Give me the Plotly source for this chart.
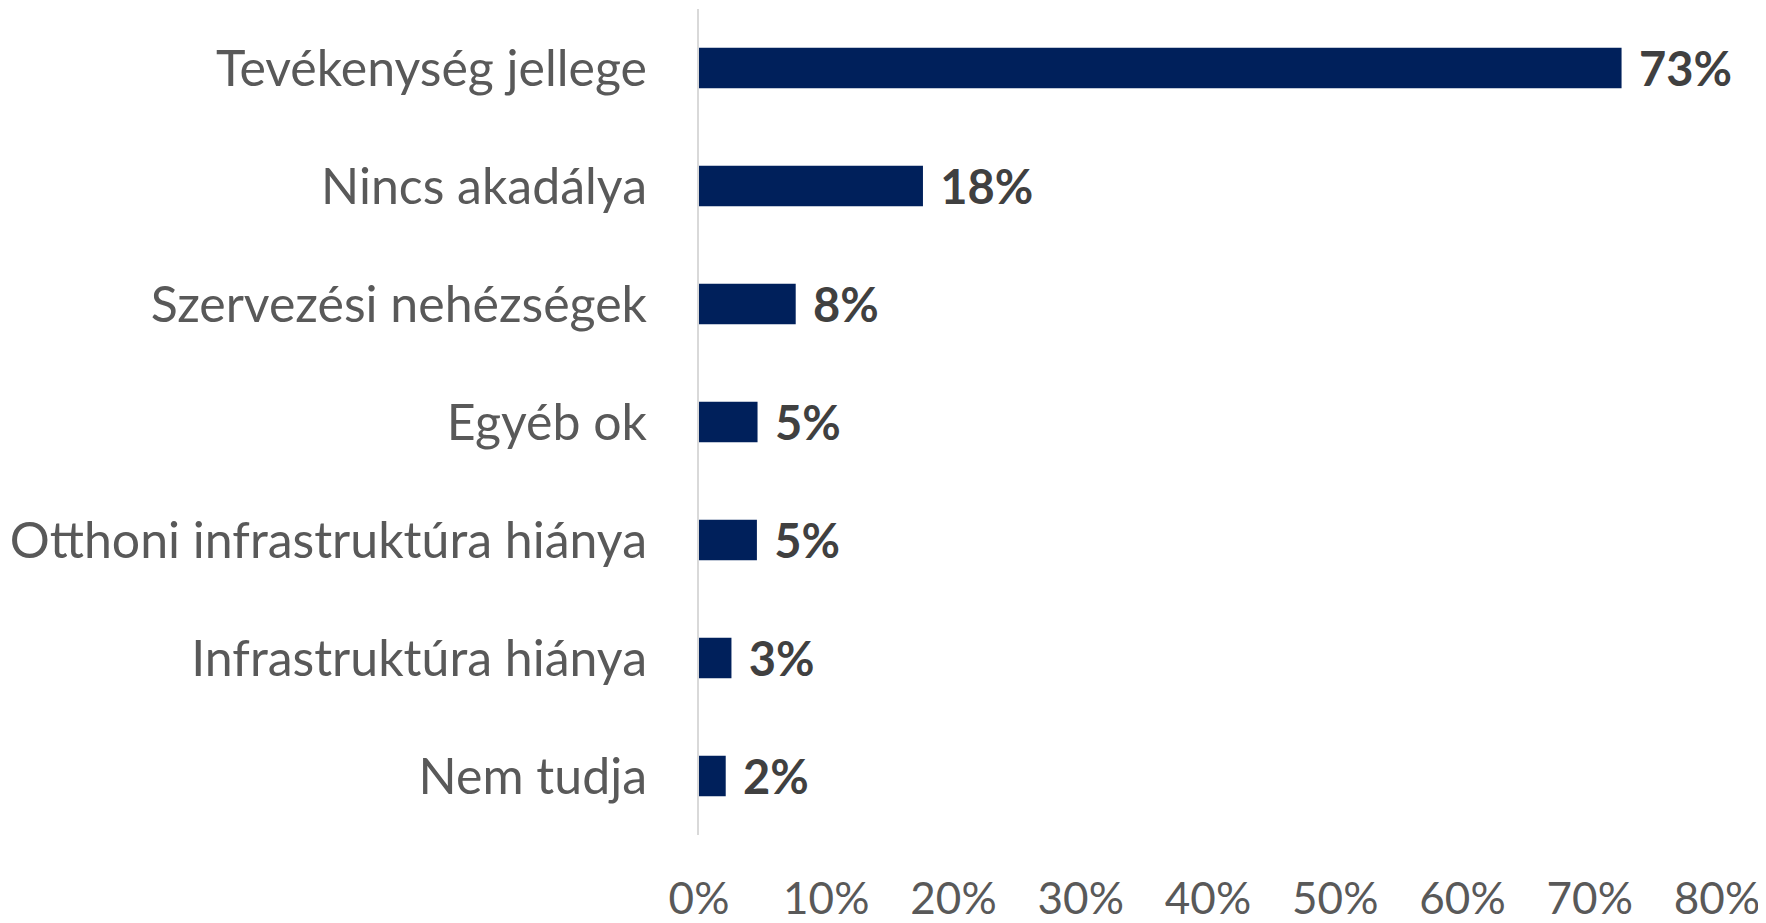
import plotly.graph_objects as go

categories = [
    "Tevékenység jellege",
    "Nincs akadálya",
    "Szervezési nehézségek",
    "Egyéb ok",
    "Otthoni infrastruktúra hiánya",
    "Infrastruktúra hiánya",
    "Nem tudja",
]
values = [72.5, 17.6, 7.6, 4.6, 4.55, 2.55, 2.1]
tick_vals = [0, 10, 20, 30, 40, 50, 60, 70, 80]
tick_text = ["0%", "10%", "20%", "30%", "40%", "50%", "60%", "70%", "80%"]

FONT = "Lato"

fig = go.Figure(
    go.Bar(
        x=values,
        y=categories,
        orientation="h",
        marker=dict(color="#00205B", line=dict(width=0)),
        texttemplate=" \u200a%{x:.0f}%",
        textposition="outside",
        constraintext="none",
        textfont=dict(family=FONT, size=47, color="#404040", weight="bold"),
        cliponaxis=False,
        width=0.345,
    )
)

fig.update_layout(
    width=1766,
    height=923,
    margin=dict(l=691, r=57, t=1, b=96, autoexpand=False),
    paper_bgcolor="white",
    plot_bgcolor="white",
    showlegend=False,
    font=dict(family=FONT, color="#595959"),
)
fig.update_xaxes(
    range=[0, 80],
    tickvals=tick_vals,
    ticktext=tick_text,
    showgrid=False,
    zeroline=False,
    showline=False,
    tickfont=dict(family=FONT, size=44, color="#595959"),
    ticklabelstandoff=34,
)
fig.update_yaxes(
    categoryorder="array",
    categoryarray=categories[::-1],
    showgrid=False,
    zeroline=False,
    showline=True,
    linecolor="#D9D9D9",
    linewidth=2,
    tickfont=dict(family=FONT, size=50, color="#595959"),
    ticklabelstandoff=40,
)

fig.write_html("out.html")
